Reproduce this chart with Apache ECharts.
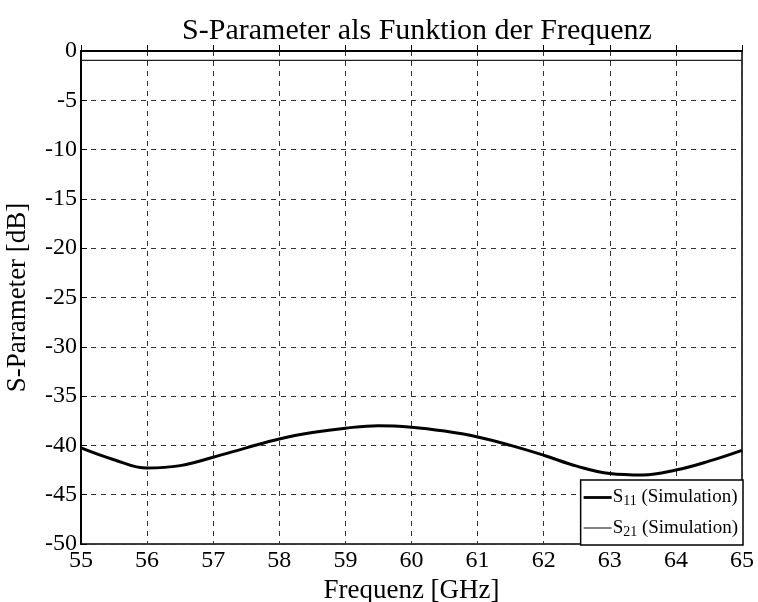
<!DOCTYPE html>
<html>
<head>
<meta charset="utf-8">
<script src="https://cdn.jsdelivr.net/npm/echarts@6/dist/echarts.min.js"></script>
<style>html,body{margin:0;padding:0;background:#fff}#c{width:758px;height:602px}</style>
</head>
<body>
<div id="c"></div>
<script>
var freq = [55.0,55.5,56.0,56.5,57.0,57.5,58.0,58.5,59.0,59.5,60.0,60.5,61.0,61.5,62.0,62.5,63.0,63.5,64.0,64.5,65.0];
var s11 = [-40.25,-41.45,-42.3,-42.05,-41.2,-40.25,-39.35,-38.7,-38.25,-38.0,-38.15,-38.55,-39.15,-40.0,-41.0,-42.1,-42.85,-43.0,-42.5,-41.6,-40.5];
var s21 = [-0.95,-0.95,-0.95,-0.95,-0.95,-0.95,-0.95,-0.95,-0.95,-0.95,-0.95,-0.95,-0.95,-0.95,-0.95,-0.95,-0.95,-0.95,-0.95,-0.95,-0.95];
var seriesNames = ['S11 (Simulation)','S21 (Simulation)'];
var legendLabels = ['S{sub|11} (Simulation)','S{sub|21} (Simulation)'];
var titleText = 'S-Parameter als Funktion der Frequenz';
var xName = 'Frequenz [GHz]';
var yName = 'S-Parameter [dB]';

var FONT = '"Liberation Serif","Times New Roman",serif';
function pairs(xs, ys){ return xs.map(function(x,i){ return [x, ys[i]]; }); }

var chart = echarts.init(document.getElementById('c'), null, {renderer:'canvas'});
var gridLine = {show:true, lineStyle:{color:'#333', width:1, type:[5,5]}};
chart.setOption({
  animation:false,
  backgroundColor:'#fff',
  title:{text:titleText, left:412, textAlign:'center', top:11,
    textStyle:{fontFamily:FONT, fontSize:30, fontWeight:'normal', color:'#000'}},
  grid:{left:81, right:16, top:51, bottom:58, outerBoundsMode:'none', containLabel:false,
    show:true, borderColor:'#000', borderWidth:1.5, backgroundColor:'transparent'},
  xAxis:{type:'value', min:55, max:65, interval:1,
    name:xName, nameLocation:'middle', nameGap:33,
    nameTextStyle:{fontFamily:FONT, fontSize:27, color:'#000'},
    axisLine:{show:true, lineStyle:{color:'#000', width:2}},
    axisTick:{show:true, inside:true, length:6, lineStyle:{color:'#000', width:1}},
    axisLabel:{fontFamily:FONT, fontSize:24, color:'#000', margin:5},
    splitLine:gridLine},
  yAxis:{type:'value', min:-50, max:0, interval:5,
    name:yName, nameLocation:'middle', nameGap:50,
    nameTextStyle:{fontFamily:FONT, fontSize:27, color:'#000'},
    axisLine:{show:true, lineStyle:{color:'#000', width:2}},
    axisTick:{show:true, inside:true, length:6, lineStyle:{color:'#000', width:1}},
    axisLabel:{fontFamily:FONT, fontSize:24, color:'#000', margin:4},
    splitLine:gridLine},
  legend:{orient:'vertical', right:15, top:480,
    data:[{name:seriesNames[0], icon:'path://M0 0H30V3H0Z'},{name:seriesNames[1], icon:'path://M0 0H30V1.2H0Z'}],
    backgroundColor:'#fff', borderColor:'#000', borderWidth:1.5, borderRadius:0,
    padding:[8,5,6,3], itemGap:10, itemWidth:28, itemHeight:16,
    formatter:function(n){ return legendLabels[seriesNames.indexOf(n)]; },
    textStyle:{fontFamily:FONT, fontSize:19, color:'#000', padding:[0,0,0,-4],
      rich:{sub:{fontFamily:FONT, fontSize:14, color:'#000', padding:[8,0,0,0]}}}},
  series:[
    {name:seriesNames[0], type:'line', data:pairs(freq,s11), smooth:0.4, symbol:'none',
      lineStyle:{color:'#000', width:3}, itemStyle:{color:'#000'}},
    {name:seriesNames[1], type:'line', data:pairs(freq,s21), symbol:'none',
      lineStyle:{color:'#222', width:1.4}, itemStyle:{color:'#222'}}
  ]
});
</script>
</body>
</html>
